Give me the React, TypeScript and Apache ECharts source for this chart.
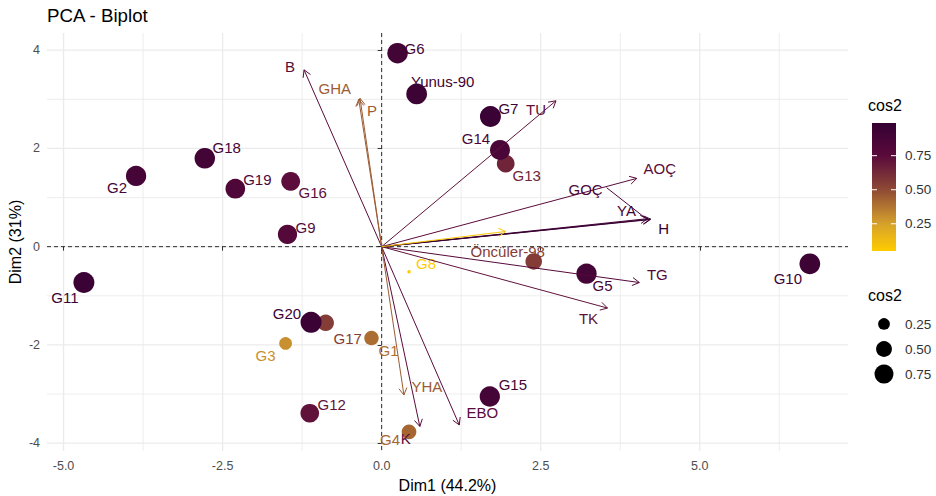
import React, { useEffect, useRef } from "react";
import * as echarts from "echarts";

// ---------- data ----------
const indNames = ["G1","G2","G3","G4","G5","G6","G7","G8","G9","G10","G11","G12","G13","G14","G15","G16","G17","G18","G19","G20","Yunus-90","Öncüler-98"];
const indDim1 = [-0.16,-3.86,-1.51,0.43,3.22,0.25,1.71,0.43,-1.48,6.73,-4.68,-1.13,1.95,1.86,1.70,-1.43,-0.88,-2.78,-2.30,-1.11,0.55,2.39];
const indDim2 = [-1.86,1.44,-1.97,-3.77,-0.55,3.94,2.65,-0.51,0.25,-0.35,-0.73,-3.39,1.69,1.97,-3.05,1.33,-1.55,1.80,1.18,-1.54,3.11,-0.30];
const indCos2 = [0.40,0.88,0.30,0.42,0.88,0.90,0.95,0.05,0.78,0.93,0.95,0.72,0.65,0.85,0.88,0.74,0.55,0.90,0.82,0.95,0.93,0.55];

const varNames = ["B","GHA","P","TU","AOÇ","GOÇ","YA","H","TG","TK","EBO","K","YHA",""];
const varDim1 = [-1.22,-0.36,-0.34,2.74,4.01,4.18,4.21,4.23,4.05,3.55,1.22,0.60,0.35,1.95];
const varDim2 = [3.60,3.00,3.02,2.97,1.39,0.57,0.55,0.56,-0.73,-1.25,-3.63,-3.66,-3.02,0.31];
const varCos2 = [0.75,0.45,0.45,0.72,0.75,0.85,0.90,0.99,0.78,0.72,0.75,0.75,0.45,0.08];

const xTicks = [-5, -2.5, 0, 2.5, 5];
const xTickLabels = ["-5.0", "-2.5", "0.0", "2.5", "5.0"];
const xMinor = [-3.75, -1.25, 1.25, 3.75, 6.25];
const yTicks = [-4, -2, 0, 2, 4];
const yTickLabels = ["-4", "-2", "0", "2", "4"];
const yMinor = [-3, -1, 1, 3];
const legendBreaks = [0.25, 0.5, 0.75];
const legendLabels = ["0.25", "0.50", "0.75"];

// ---------- styles ----------
const FONT = '"Liberation Sans", Arial, Helvetica, sans-serif';
const X_MIN = -5.26, X_MAX = 7.33, Y_MIN = -4.16, Y_MAX = 4.35;
const GRID = { left: 47, right: 88, top: 33, bottom: 45 };

const colorStopValues = [0.05, 0.25, 0.5, 0.75, 1.0];
const colorStopColors = ["#FFCC00", "#D6A12C", "#8E4A35", "#5A0A3B", "#330033"];

const indLabelOffset: Record<string, number[]> = {
  G1: [17, 12], G2: [-19, 12], G3: [-20, 12], G4: [-19, 8], G5: [16, 12], G6: [17, -5],
  G7: [18, -8], G8: [17, -8], G9: [18, -7], G10: [-22, 15], G11: [-19, 15], G12: [22, -9],
  G13: [21, 12], G14: [-24, -11], G15: [23, -12], G16: [22, 11], G17: [22, 16], G18: [22, -11],
  G19: [22, -9], G20: [-24, -9], "Yunus-90": [26, -12], "Öncüler-98": [-26, -10],
};
const varLabelOffset: Record<string, number[]> = {
  B: [-14, -3], GHA: [-24, -11], P: [12, 12], TU: [-20, 9], "AOÇ": [23, -10], "GOÇ": [-62, -29],
  YA: [-23, -9], H: [13, 9], TG: [18, -8], TK: [-19, 10], EBO: [23, -12], K: [-14, 12], YHA: [23, -9],
};
const varSegment: Record<string, number[]> = { "GOÇ": [-41, -31, -4, -2] };

function hexToRgb(h: string) {
  return [parseInt(h.slice(1, 3), 16), parseInt(h.slice(3, 5), 16), parseInt(h.slice(5, 7), 16)];
}
function colorFor(c: number) {
  const v = colorStopValues;
  if (c <= v[0]) return colorStopColors[0];
  for (let i = 1; i < v.length; i++) {
    if (c <= v[i]) {
      const t = (c - v[i - 1]) / (v[i] - v[i - 1]);
      const a = hexToRgb(colorStopColors[i - 1]), b = hexToRgb(colorStopColors[i]);
      const r = a.map((x, k) => Math.round(x + (b[k] - x) * t));
      return `rgb(${r[0]},${r[1]},${r[2]})`;
    }
  }
  return colorStopColors[colorStopColors.length - 1];
}
const sMin = Math.min(...indCos2), sMax = Math.max(...indCos2);
function sizeFor(c: number) {
  const t = Math.max(0, Math.min(1, (c - sMin) / (sMax - sMin)));
  return 3.5 * (1 + 5 * Math.sqrt(t));
}

export default function App() {
  const ref = useRef<HTMLDivElement>(null);
  useEffect(() => {
    if (!ref.current) return;
    const chart = echarts.init(ref.current, null, { renderer: "svg" });

    const gridData: number[][] = [];
    xTicks.forEach((v) => gridData.push([v, 0]));
    xMinor.forEach((v) => gridData.push([v, 1]));
    yTicks.forEach((v) => gridData.push([v, 2]));
    yMinor.forEach((v) => gridData.push([v, 3]));
    gridData.push([0, 4]);
    gridData.push([0, 5]);

    const indData = indNames.map((n, i) => {
      const col = colorFor(indCos2[i]);
      return {
        name: n,
        value: [indDim1[i], indDim2[i], indCos2[i]],
        itemStyle: { color: col, opacity: 1 },
        label: {
          show: true, formatter: n, position: "inside", offset: indLabelOffset[n] || [0, -12],
          color: col, fontSize: 15, fontFamily: FONT, align: "center", verticalAlign: "middle",
        },
      };
    });

    const varData = varNames.map((n, i) => [varDim1[i], varDim2[i], varCos2[i], i]);

    const allCos = [...indCos2, ...varCos2];
    const cLo = Math.min(...allCos), cHi = Math.max(...allCos);
    const barX = 872, barY = 123, barW = 24, barH = 128;
    const gradStops = [] as { offset: number; color: string }[];
    for (let k = 0; k <= 20; k++) {
      const c = cHi - (k / 20) * (cHi - cLo);
      gradStops.push({ offset: k / 20, color: colorFor(c) });
    }
    const graphics: any[] = [
      { type: "text", left: 868, top: 97, style: { text: "cos2", fill: "#000", fontSize: 16, fontFamily: FONT } },
      { type: "rect", shape: { x: barX, y: barY, width: barW, height: barH },
        style: { fill: new echarts.graphic.LinearGradient(0, 0, 0, 1, gradStops) } },
      { type: "text", left: 868, top: 287, style: { text: "cos2", fill: "#000", fontSize: 16, fontFamily: FONT } },
    ];
    legendBreaks.forEach((b, i) => {
      const ty = barY + ((cHi - b) / (cHi - cLo)) * barH;
      graphics.push({ type: "line", shape: { x1: barX, y1: ty, x2: barX + 5, y2: ty }, style: { stroke: "#fff", lineWidth: 1 } });
      graphics.push({ type: "line", shape: { x1: barX + barW - 5, y1: ty, x2: barX + barW, y2: ty }, style: { stroke: "#fff", lineWidth: 1 } });
      graphics.push({ type: "text", x: 905, y: ty, style: { text: legendLabels[i], fill: "#333", fontSize: 13.5, fontFamily: FONT, verticalAlign: "middle" } });
      const cy = 324 + i * 25;
      graphics.push({ type: "circle", shape: { cx: 884, cy, r: sizeFor(b) / 2 }, style: { fill: "#000" } });
      graphics.push({ type: "text", x: 905, y: cy, style: { text: legendLabels[i], fill: "#333", fontSize: 13.5, fontFamily: FONT, verticalAlign: "middle" } });
    });

    const option: any = {
      animation: false,
      backgroundColor: "#ffffff",
      title: {
        text: "PCA - Biplot", left: 47, top: 6, padding: 0,
        textStyle: { fontSize: 18.7, fontWeight: "normal", color: "#000", fontFamily: FONT },
      },
      grid: { ...GRID, containLabel: false, outerBoundsMode: "none" },
      xAxis: {
        type: "value", min: X_MIN, max: X_MAX,
        name: "Dim1 (44.2%)", nameLocation: "middle", nameGap: 26,
        nameTextStyle: { fontSize: 16, color: "#000", fontFamily: FONT },
        axisLine: { show: false }, splitLine: { show: false },
        axisTick: { show: true, customValues: xTicks, length: 4, lineStyle: { color: "#333", width: 1 } },
        axisLabel: {
          show: true, customValues: xTicks, margin: 8, color: "#4D4D4D", fontSize: 12.5, fontFamily: FONT,
          formatter: (v: number) => { const k = xTicks.indexOf(v); return k >= 0 ? xTickLabels[k] : ""; },
        },
      },
      yAxis: {
        type: "value", min: Y_MIN, max: Y_MAX,
        name: "Dim2 (31%)", nameLocation: "middle", nameGap: 24, nameMoveOverlap: false,
        nameTextStyle: { fontSize: 16, color: "#000", fontFamily: FONT },
        axisLine: { show: false }, splitLine: { show: false },
        axisTick: { show: true, customValues: yTicks, length: 4, lineStyle: { color: "#333", width: 1 } },
        axisLabel: {
          show: true, customValues: yTicks, margin: 7, color: "#4D4D4D", fontSize: 12.5, fontFamily: FONT,
          formatter: (v: number) => { const k = yTicks.indexOf(v); return k >= 0 ? yTickLabels[k] : ""; },
        },
      },
      graphic: graphics,
      series: [
        {
          type: "custom", z: 0, silent: true, clip: false,
          encode: { x: 0, y: 1 },
          data: gridData,
          renderItem: (params: any, api: any) => {
            const v = api.value(0), k = api.value(1);
            const cs = params.coordSys;
            const vertical = k === 0 || k === 1 || k === 4;
            const style: any = k >= 4
              ? { stroke: "#1a1a1a", lineWidth: 0.9, lineDash: [4, 3] }
              : { stroke: "#EBEBEB", lineWidth: k === 0 || k === 2 ? 1.3 : 0.9 };
            if (vertical) {
              const x = api.coord([v, 0])[0];
              return { type: "line", z2: k >= 4 ? 5 : 0, shape: { x1: x, y1: cs.y, x2: x, y2: cs.y + cs.height }, style };
            }
            const y = api.coord([0, v])[1];
            return { type: "line", z2: k >= 4 ? 5 : 0, shape: { x1: cs.x, y1: y, x2: cs.x + cs.width, y2: y }, style };
          },
        },
        {
          type: "scatter", z: 2,
          data: indData,
          symbol: "circle",
          symbolSize: (val: number[]) => sizeFor(val[2]),
          emphasis: { disabled: true },
        },
        {
          type: "custom", z: 3, silent: true, clip: false,
          encode: { x: 0, y: 1 },
          data: varData,
          renderItem: (params: any, api: any) => {
            const x = api.value(0), y = api.value(1), c = api.value(2);
            const name = varNames[params.dataIndex];
            const end = api.coord([x, y]);
            const o = api.coord([0, 0]);
            const col = colorFor(c);
            const ang = Math.atan2(end[1] - o[1], end[0] - o[0]);
            const L = 8, a = Math.PI / 6;
            const p1 = [end[0] - L * Math.cos(ang - a), end[1] - L * Math.sin(ang - a)];
            const p2 = [end[0] - L * Math.cos(ang + a), end[1] - L * Math.sin(ang + a)];
            const children: any[] = [
              { type: "line", shape: { x1: o[0], y1: o[1], x2: end[0], y2: end[1] }, style: { stroke: col, lineWidth: 1 } },
              { type: "polyline", shape: { points: [p1, end, p2] }, style: { stroke: col, lineWidth: 1, fill: null } },
            ];
            if (name) {
              const off = varLabelOffset[name] || [0, -12];
              children.push({
                type: "text",
                style: {
                  text: name, x: end[0] + off[0], y: end[1] + off[1], fill: col,
                  fontSize: 15, fontFamily: FONT, align: "center", verticalAlign: "middle",
                },
              });
              const seg = varSegment[name];
              if (seg) {
                children.push({
                  type: "line",
                  shape: { x1: end[0] + seg[0], y1: end[1] + seg[1], x2: end[0] + seg[2], y2: end[1] + seg[3] },
                  style: { stroke: col, lineWidth: 1 },
                });
              }
            }
            return { type: "group", children };
          },
        },
      ],
    };
    chart.setOption(option);
    return () => chart.dispose();
  }, []);
  return <div ref={ref} style={{ position: "fixed", left: 0, top: 0, width: 936, height: 496 }} />;
}
